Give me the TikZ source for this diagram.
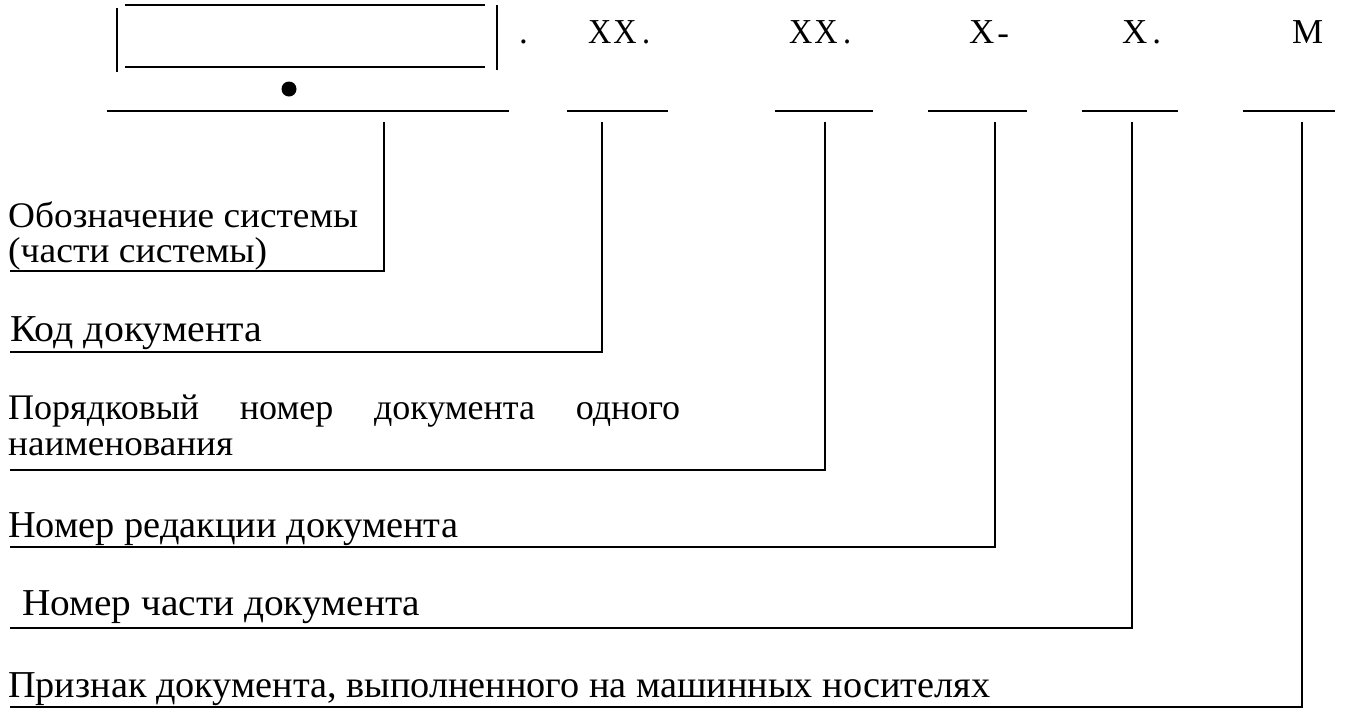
\documentclass[tikz,border=0pt]{standalone}
\usepackage{fontspec}
\setmainfont{Liberation Serif}
\usepackage{graphicx}
\newcommand\fitw[2]{\resizebox{#1}{\height}{#2}}
\begin{document}
\begin{tikzpicture}[x=1pt,y=-1pt,
  ln/.style={line width=2.6pt},
  lbl/.style={anchor=base west,inner sep=0pt,font=\fontsize{38}{40}\selectfont},
  lbls/.style={lbl,font=\fontsize{36}{38}\selectfont},
  fld/.style={anchor=base west,inner sep=0pt,font=\fontsize{35}{38}\selectfont}]
\useasboundingbox (0,0) rectangle (1345,713);
% box
\draw[ln] (117,8) -- (117,72);
\draw[ln] (125,5) -- (485,5);
\draw[ln] (125,67) -- (485,67);
\draw[ln] (497,5) -- (497,70);
\node[fld] (dot0) at (519,43) {.};
\fill (289,89) circle (7.5);
% field labels
\node[fld] (f1) at (588,43) {\fitw{62pt}{X\kern2pt X\kern6pt.}};
\node[fld] (f2) at (789,43) {\fitw{62pt}{X\kern2pt X\kern6pt.}};
\node[fld] (f3) at (969,43) {X\kern3pt\raisebox{-1pt}{-}};
\node[fld] (f4) at (1122,43) {X\kern5pt.};
\node[fld] (f5) at (1292,43) {М};
% underlines
\coordinate (u0a) at (107,111); \coordinate (u0b) at (509,111);
\coordinate (u1a) at (567,111); \coordinate (u1b) at (668,111);
\coordinate (u2a) at (775,111); \coordinate (u2b) at (873,111);
\coordinate (u3a) at (928,111); \coordinate (u3b) at (1027,111);
\coordinate (u4a) at (1082,111); \coordinate (u4b) at (1178,111);
\coordinate (u5a) at (1243,111); \coordinate (u5b) at (1335,111);
\foreach \i in {0,...,5} \draw[ln] (u\i a) -- (u\i b);
% labels
\node[lbls] (l0a) at (8,227) {\fitw{350pt}{Обозначение системы}};
\node[lbls] (l0b) at (8,262) {\fitw{259pt}{(части системы)}};
\node[lbl] (l1) at (10,341) {\fitw{252pt}{Код документа}};
\node[lbls] (l2a) at (8,419) {\makebox[672pt][s]{Порядковый номер документа одного}};
\node[lbls] (l2b) at (8,455) {\fitw{225pt}{наименования}};
\node[lbl] (l3) at (8,537) {\fitw{450pt}{Номер редакции документа}};
\node[lbl] (l4) at (22,615) {\fitw{398pt}{Номер части документа}};
\node[lbl] (l5) at (8,697) {\fitw{982pt}{Признак документа, выполненного на машинных носителях}};
% connectors
\coordinate (t0) at (384,122); \coordinate (c0) at (384,271); \coordinate (e0) at (10,271);
\coordinate (t1) at (602,122); \coordinate (c1) at (602,352); \coordinate (e1) at (10,352);
\coordinate (t2) at (825,122); \coordinate (c2) at (825,470); \coordinate (e2) at (10,470);
\coordinate (t3) at (995,122); \coordinate (c3) at (995,547); \coordinate (e3) at (10,547);
\coordinate (t4) at (1132,122); \coordinate (c4) at (1132,628); \coordinate (e4) at (10,628);
\coordinate (t5) at (1302,122); \coordinate (c5) at (1302,707); \coordinate (e5) at (10,707);
\foreach \i in {0,...,5} \draw[ln] (t\i) -- (c\i) -- (e\i);
\end{tikzpicture}
\end{document}
